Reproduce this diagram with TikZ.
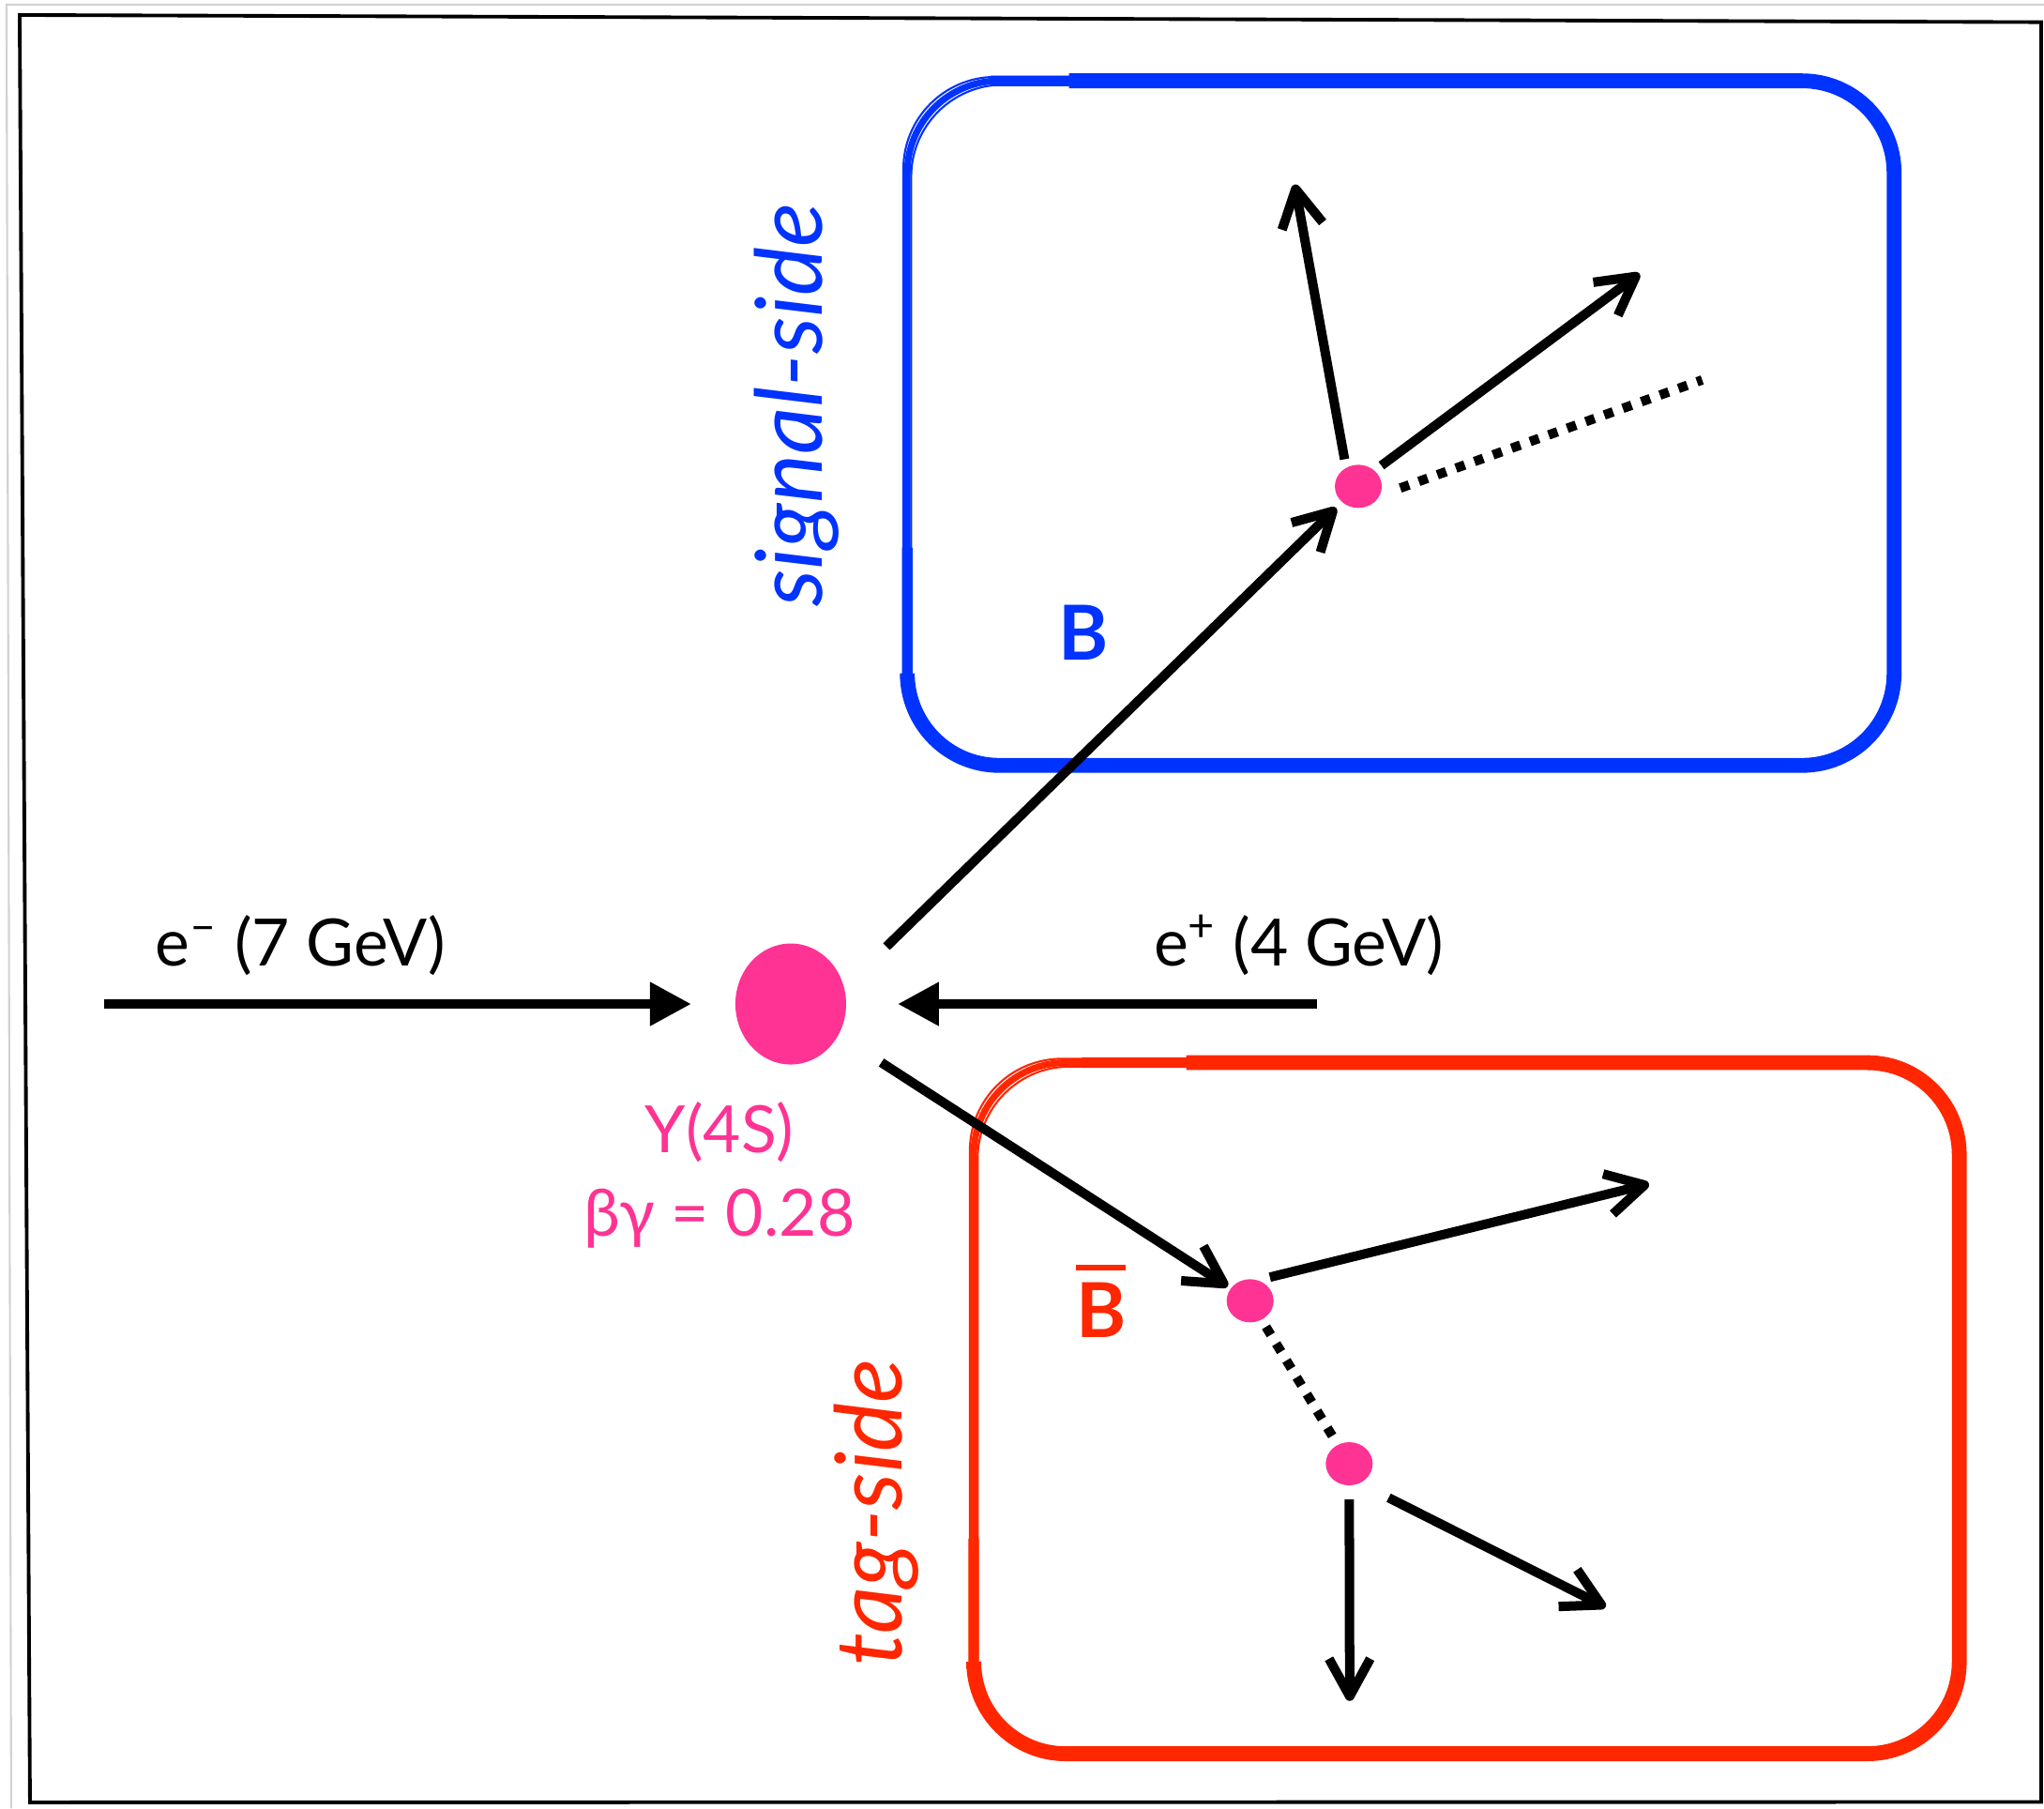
\documentclass[tikz,border=0pt]{standalone}
\usepackage{fontspec}
\setmainfont{Lato}
\usetikzlibrary{arrows.meta,shapes.geometric,positioning}
\definecolor{vtxpink}{HTML}{FF3393}
\definecolor{sigblue}{HTML}{0033FF}
\definecolor{tagred}{HTML}{FF2600}
\newcommand{\barB}{\vbox{\hrule height 0.6mm\kern 1.3mm\hbox{B}}}

\begin{document}
\begin{tikzpicture}[x=0.13897mm, y=-0.13897mm,
    ups/.style={ellipse, fill=vtxpink, inner sep=0pt, outer sep=0pt, minimum width=11.8mm, minimum height=12.9mm},
    vtx/.style={ellipse, fill=vtxpink, inner sep=0pt, outer sep=0.9mm, minimum width=5mm, minimum height=4.6mm},
    beam/.style={line width=3pt, -{Triangle[length=4.4mm, width=4.4mm]}},
    track/.style={line width=2.85pt, -{Straight Barb[length=4mm, width=4.4mm, line join=round]}},
    missing/.style={line width=2.85pt, dash pattern=on 1mm off 1.1mm},
    beamlbl/.style={font=\fontsize{19.8}{24}\selectfont, inner sep=0pt, anchor=base},
    upslbl/.style={font=\fontsize{19.8}{24}\selectfont, text=vtxpink, inner sep=0pt, anchor=base},
    sidelbl/.style={font=\fontsize{28}{33}\selectfont\itshape, rotate=90, inner sep=0pt, anchor=base},
    mesonlbl/.style={font=\fontsize{23}{27}\selectfont\bfseries, inner sep=0pt, anchor=base},
    edge/.style={rounded corners=9.8mm, line width=#1},
    edge/.default=2pt]
  \useasboundingbox (0,0) rectangle (1568,1387);

  % frame
  \draw[gray!35, line width=0.6pt] (1568,3.6) -- (5,3.6) -- (8.6,1387);
  \draw[line width=1.1pt] (15.1,11.5) -- (1565.8,17) -- (1565.8,1382) -- (23,1382.3) -- cycle;

  % signal-side box, sketchy strokes
  \draw[sigblue, edge] (696,62) rectangle (1453,587);
  \draw[sigblue, edge=0.6pt] (699,65) rectangle (1450,584);
  \draw[sigblue, edge=0.6pt] (693,59) rectangle (1456,590);
  \draw[sigblue, edge=3.2pt] (760,62) -- (1453,62) -- (1453,587) -- (696,587) -- (696,420);
  \draw[sigblue, edge=4.5pt] (820,62) -- (1453,62) -- (1453,587) -- (696,587) -- (696,520);

  % tag-side box, sketchy strokes
  \draw[tagred, edge] (747,815) rectangle (1503,1345);
  \draw[tagred, edge=0.6pt] (750,818) rectangle (1500,1342);
  \draw[tagred, edge=0.6pt] (744,812) rectangle (1506,1348);
  \draw[tagred, edge=3.2pt] (830,815) -- (1503,815) -- (1503,1345) -- (747,1345) -- (747,1180);
  \draw[tagred, edge=4.5pt] (910,815) -- (1503,815) -- (1503,1345) -- (747,1345) -- (747,1280);

  % vertices
  \node[ups] (ups) at (606.6,770) {};
  \node[vtx] (sigvtx) at (1042,373) {};
  \node[vtx] (tagvtx) at (959,997.6) {};
  \node[vtx] (decvtx) at (1035,1122.6) {};

  % labels
  \node[beamlbl] (emlbl) at (230.5,741) {e\textsuperscript{–} (7 GeV)};
  \node[beamlbl] (eplbl) at (996.5,741) {e\textsuperscript{+} (4 GeV)};
  \node[upslbl] (upsname) at (552,884) {Υ(4S)};
  \node[upslbl] (upsboost) at (552,948) {βγ = 0.28};
  \node[sidelbl, text=sigblue] (siglbl) at (631,310.6) {signal-side};
  \node[sidelbl, text=tagred] (taglbl) at (692,1160) {tag-side};
  \node[mesonlbl, text=sigblue] (blbl) at (831,506) {B};
  \node[mesonlbl, text=tagred] (bbarlbl) at (844.6,1025.8) {\barB};

  % beams
  \coordinate (eminus) at (80,770);
  \coordinate (eplus) at (1010,770);
  \draw[beam, shorten >=4.7mm] (eminus) -- (ups);
  \draw[beam, shorten >=5.5mm] (eplus) -- (ups);

  % B and anti-B
  \coordinate (bstart) at (680,726);
  \draw[track] (bstart) -- (sigvtx);
  \draw[track, shorten <=5.45mm, shorten >=-0.5mm] (ups) -- (tagvtx);

  % signal-side decay
  \coordinate (sigup) at (993.3,141.5);
  \coordinate (sigright) at (1257.7,209.9);
  \coordinate (sigmiss) at (1305.8,291.4);
  \draw[track] (sigvtx.117) -- (sigup);
  \draw[track] (sigvtx.42) -- (sigright);
  \draw[missing, shorten <=1.2mm] (sigvtx.-10) -- (sigmiss);

  % tag-side decay
  \coordinate (tagright) at (1265,908);
  \coordinate (decdown) at (1035.4,1304.5);
  \coordinate (decright) at (1231.7,1232.5);
  \draw[track] (tagvtx.50) -- (tagright);
  \draw[missing] (tagvtx) -- (decvtx);
  \draw[track, shorten <=0.6mm] (decvtx) -- (decdown);
  \draw[track, shorten <=2.4mm] (decvtx.-51) -- (decright);
\end{tikzpicture}
\end{document}
